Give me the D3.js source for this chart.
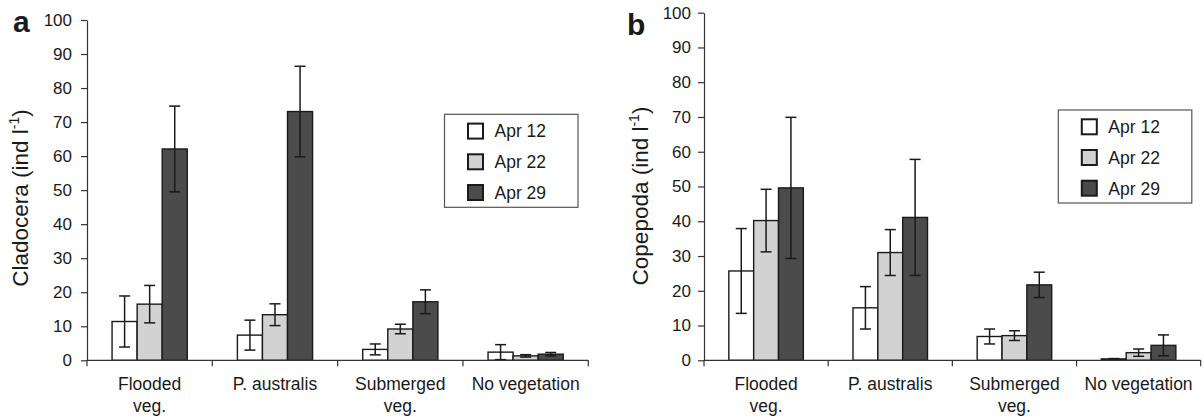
<!DOCTYPE html>
<html><head><meta charset="utf-8">
<script src="https://cdn.jsdelivr.net/npm/d3@7"></script>
<style>
body{margin:0;background:#fff}
svg{display:block}
text{font-family:"Liberation Sans",Arial,Helvetica,sans-serif;fill:#1a1a1a}
</style>
</head><body>
<svg id="chart" width="1204" height="418"></svg>
<script>
// ---- data ----
const categories = ["Flooded veg.", "P. australis", "Submerged veg.", "No vegetation"];
const categoryLines = [["Flooded", "veg."], ["P. australis"], ["Submerged", "veg."], ["No vegetation"]];
const seriesNames = ["Apr 12", "Apr 22", "Apr 29"];
const yTickValues = [0, 10, 20, 30, 40, 50, 60, 70, 80, 90, 100];

const cladoceraApr12 = [11.4, 7.4, 3.2, 2.4];
const cladoceraApr22 = [16.5, 13.4, 9.2, 1.3];
const cladoceraApr29 = [62.1, 73.1, 17.2, 1.8];
const cladoceraErrApr12 = [7.5, 4.4, 1.6, 2.2];
const cladoceraErrApr22 = [5.5, 3.2, 1.4, 0.35];
const cladoceraErrApr29 = [12.6, 13.3, 3.5, 0.5];

const copepodaApr12 = [25.7, 15.1, 6.85, 0.4];
const copepodaApr22 = [40.2, 31.0, 7.1, 2.2];
const copepodaApr29 = [49.6, 41.1, 21.7, 4.3];
const copepodaErrApr12 = [12.2, 6.1, 2.15, 0.1];
const copepodaErrApr22 = [9.0, 6.6, 1.4, 1.05];
const copepodaErrApr29 = [20.3, 16.7, 3.65, 3.0];

// ---- styles ----
const fills = ["#ffffff", "#d2d2d2", "#4b4b4b"];
const ink = "#1a1a1a";

const svg = d3.select("#chart");

function drawPanel(p) {
  const g = svg.append("g");
  const x = d3.scaleBand().domain(categories).range([p.left, p.right]).padding(0);
  const xs = d3.scaleBand().domain(seriesNames)
    .range([x.bandwidth() * 0.2, x.bandwidth() * 0.8]).padding(0);
  const y = d3.scaleLinear().domain([0, 100]).range([p.bottom, p.top]);

  // y axis
  const ya = g.append("g").attr("transform", `translate(${p.left},0)`)
    .call(d3.axisLeft(y).tickValues(yTickValues).tickSize(6).tickPadding(p.tickPad).tickSizeOuter(0));
  ya.select(".domain").attr("stroke", "#333").attr("stroke-width", 1.2);
  ya.selectAll(".tick line").attr("stroke", "#333").attr("stroke-width", 1.2);
  ya.selectAll(".tick text").attr("font-size", 17).attr("fill", ink)
    .style("font-family", '"Liberation Sans",Arial,sans-serif');

  // bars
  const rows = p.values;
  categories.forEach((c, ci) => {
    seriesNames.forEach((s, si) => {
      const v = rows[si][ci];
      const e = p.errors[si][ci];
      const bx = x(c) + xs(s);
      const bw = xs.bandwidth();
      g.append("rect")
        .attr("x", bx).attr("y", y(v))
        .attr("width", bw).attr("height", y(0) - y(v))
        .attr("fill", fills[si]).attr("stroke", ink).attr("stroke-width", 1.4);
      const cx = bx + bw / 2;
      const cap = 5.5;
      const eg = g.append("g").attr("stroke", ink).attr("stroke-width", 1.5);
      eg.append("line").attr("x1", cx).attr("x2", cx).attr("y1", y(v + e)).attr("y2", y(Math.max(0, v - e)));
      eg.append("line").attr("x1", cx - cap).attr("x2", cx + cap).attr("y1", y(v + e)).attr("y2", y(v + e));
      eg.append("line").attr("x1", cx - cap).attr("x2", cx + cap).attr("y1", y(Math.max(0, v - e))).attr("y2", y(Math.max(0, v - e)));
    });
  });

  // x axis (drawn over bars' bottom)
  const xa = g.append("g").attr("transform", `translate(0,${p.bottom})`);
  xa.append("line").attr("x1", p.left).attr("x2", p.right).attr("y1", 0).attr("y2", 0)
    .attr("stroke", "#333").attr("stroke-width", 1.2);
  const bounds = categories.map(c => x(c)).concat([p.right]);
  xa.selectAll("line.tk").data(bounds).enter().append("line").attr("class", "tk")
    .attr("x1", d => d).attr("x2", d => d).attr("y1", 0).attr("y2", 6)
    .attr("stroke", "#333").attr("stroke-width", 1.2);
  categories.forEach((c, ci) => {
    const t = xa.append("text").attr("text-anchor", "middle").attr("font-size", 17.5)
      .attr("x", x(c) + x.bandwidth() / 2).attr("y", 30);
    categoryLines[ci].forEach((ln, li) => {
      t.append("tspan").attr("x", x(c) + x.bandwidth() / 2).attr("dy", li === 0 ? 0 : 21.5).text(ln);
    });
  });

  // y title
  const yt = g.append("text")
    .attr("transform", `translate(${p.titleX},${p.titleY}) rotate(-90)`)
    .attr("text-anchor", "middle").attr("font-size", 22.5);
  yt.append("tspan").text(p.title + " (ind l");
  yt.append("tspan").attr("font-size", 14).attr("dy", -9).text("-1");
  yt.append("tspan").attr("dy", 9).text(")");

  // panel letter
  g.append("text").attr("x", p.letterX).attr("y", p.letterY)
    .attr("font-size", 30).attr("font-weight", "bold").attr("fill", "#111").text(p.letter);

  // legend
  const lg = g.append("g").attr("transform", `translate(${p.legX},${p.legY})`);
  lg.append("rect").attr("x", 0).attr("y", 0).attr("width", 133.5).attr("height", 93)
    .attr("fill", "#fff").attr("stroke", "#555").attr("stroke-width", 1.2);
  seriesNames.forEach((s, si) => {
    const cy = 16.8 + si * 30.7;
    lg.append("rect").attr("x", 23.5).attr("y", cy - 7.5).attr("width", 15).attr("height", 15)
      .attr("fill", fills[si]).attr("stroke", ink).attr("stroke-width", 2);
    lg.append("text").attr("x", 50).attr("y", cy + 6.3).attr("font-size", 17.5).text(s);
  });
}

drawPanel({
  letter: "a", title: "Cladocera",
  values: [cladoceraApr12, cladoceraApr22, cladoceraApr29],
  errors: [cladoceraErrApr12, cladoceraErrApr22, cladoceraErrApr29],
  left: 87, right: 588.3, top: 20, bottom: 360.3, tickPad: 9,
  titleX: 28, titleY: 198, letterX: 13, letterY: 32,
  legX: 444.5, legY: 114.3
});
drawPanel({
  letter: "b", title: "Copepoda",
  values: [copepodaApr12, copepodaApr22, copepodaApr29],
  errors: [copepodaErrApr12, copepodaErrApr22, copepodaErrApr29],
  left: 704, right: 1200.7, top: 12.7, bottom: 360.3, tickPad: 7,
  titleX: 648, titleY: 196, letterX: 627, letterY: 35,
  legX: 1058.3, legY: 110
});
</script>
</body></html>
